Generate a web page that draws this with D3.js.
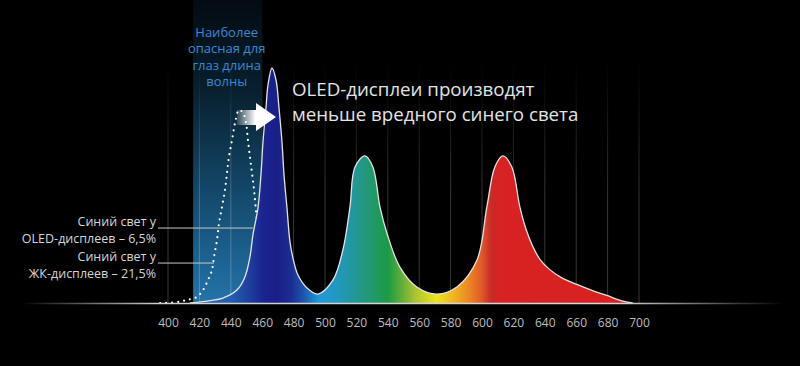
<!DOCTYPE html>
<html>
<head>
<meta charset="utf-8">
<script src="https://cdn.jsdelivr.net/npm/d3@7/dist/d3.min.js"></script>
<style>
  html, body { margin: 0; padding: 0; background: #000; }
  svg { display: block; }
</style>
</head>
<body>
<svg id="chart" width="800" height="366"></svg>
<script>
// ---------- DATA ----------
const tickNm = [400, 420, 440, 460, 480, 500, 520, 540, 560, 580, 600, 620, 640, 660, 680, 700];

// OLED spectrum (relative intensity, blue peak = 100)
const oledNm  = [414, 418.5, 427, 435, 443.9, 449, 452.2, 454.1, 457.3, 459.2, 460.5, 462.4, 463.7, 466.2, 468.8, 470.7, 472.6, 473.9, 475.8, 477.7, 480.2, 482.8, 488.5, 495.5, 505.1, 511.4, 515.9, 519.1, 525.4, 530.5, 535, 539.4, 547.7, 558.5, 571.3, 584, 596.8, 603.1, 608.2, 613.3, 619, 624.1, 628, 632.4, 637, 643.2, 650.3, 660.4, 670, 679.5, 689.7, 696];
const oledVal = [0,   0.3,   1.0, 2.1, 5.5,   11.1, 19.6, 29,    40.4,  54.5,  68.5,  83,    92.8,  100,   94.9,  83,    68.5,  54.5,  40.4,  26,    17.4,  11.9,  6.4,   3.8,   9.8,   22.6,  40.9,  57.9,  62.6,  57.9,  40.9, 29.8,  15.3,  6.8,   3.8,   6.8, 18.3,  40.9,  57.9,  62.6,  57.9, 40.9,  31.5, 24.0,  18.5, 14.2,  10.9,  7.9,   5.4,  3.2,   0.8,   0];

// LCD blue emission (dotted)
const lcdNm  = [395, 405.7, 412.1, 418.5, 422.3, 425.5, 428, 429.3, 431.2, 432.5, 434.4, 436.3, 437.6, 438.8, 440.8, 442.7, 445.2, 447.8, 449.7, 450.9, 452.2, 453.5, 454.8, 456.7, 459.9, 465, 474.5];
const lcdVal = [0,   0.4,   1.3,   2.6,   5.5,   9.8,   14,  19.6,  26.8,  34,    40.9,  48.1,  55.3,  62.1,  69.4,  76.6,  82.1,  80.9,  76.6,  69.4,  62.1,  55.3,  48.1,  35,    18,    5,   0];

// Hazard band (nm)
const bandNm = [416, 460];

// Texts
const bandText  = ["Наиболее", "опасная для", "глаз длина", "волны"];
const titleText = ["OLED-дисплеи производят", "меньше вредного синего света"];
const oledLabel = ["Синий свет у", "OLED-дисплеев – 6,5%"];
const lcdLabel  = ["Синий свет у", "ЖК-дисплеев – 21,5%"];
// leader end points on the curves (nm, value)
const oledLeader = [454.1, 31.9];
const lcdLeader  = [429.3, 17.0];

// spectrum gradient stops (nm, colour)
const specStops = [
  [414, "#2563b2"], [440, "#2260b0"], [452, "#1f3e9c"], [461, "#1a2390"], [470, "#1a1f86"],
  [479, "#1c2f92"], [487, "#1d5ab0"], [496, "#1f9ad8"], [505, "#2198c6"], [515, "#2297a6"],
  [525, "#24977f"], [534, "#1f9a5c"], [540, "#1b9a46"], [548, "#5aab3a"], [558, "#b0c430"],
  [571, "#ece41e"], [581, "#f0b820"], [591, "#ec8a24"], [600, "#e0582a"], [605, "#c93029"],
  [607, "#cc2828"], [611, "#d82222"], [700, "#d82020"]
];

// ---------- SCALES ----------
const svg = d3.select("#chart");
const W = 800, H = 366;
const x = d3.scaleLinear().domain([400, 700]).range([168, 639]);
const y = d3.scaleLinear().domain([0, 100]).range([303, 68]);

svg.append("rect").attr("width", W).attr("height", H).attr("fill", "#000");

const defs = svg.append("defs");

// band gradient
const bg = defs.append("linearGradient").attr("id", "bandGrad")
  .attr("gradientUnits", "userSpaceOnUse").attr("x1", 0).attr("x2", 0).attr("y1", 0).attr("y2", y(0));
[[0, "#040b12"], [0.3, "#08202f"], [0.6, "#124464"], [1, "#2373aa"]].forEach(s =>
  bg.append("stop").attr("offset", s[0]).attr("stop-color", s[1]));

// spectrum gradient
const sg = defs.append("linearGradient").attr("id", "specGrad")
  .attr("gradientUnits", "userSpaceOnUse").attr("x1", x(400)).attr("x2", x(700)).attr("y1", 0).attr("y2", 0);
specStops.forEach(s => sg.append("stop").attr("offset", (x(s[0]) - x(400)) / (x(700) - x(400))).attr("stop-color", s[1]));

// gridline gradient
const gg = defs.append("linearGradient").attr("id", "gridGrad")
  .attr("gradientUnits", "userSpaceOnUse").attr("x1", 0).attr("x2", 0).attr("y1", 60).attr("y2", 200);
gg.append("stop").attr("offset", 0).attr("stop-color", "#fff").attr("stop-opacity", 0);
gg.append("stop").attr("offset", 1).attr("stop-color", "#fff").attr("stop-opacity", 0.22);

// baseline gradient
const blg = defs.append("linearGradient").attr("id", "baseGrad")
  .attr("gradientUnits", "userSpaceOnUse").attr("x1", 20).attr("x2", 785).attr("y1", 0).attr("y2", 0);
[[0, "#000"], [0.18, "#d0d0d0"], [0.78, "#d8d8d8"], [1, "#000"]].forEach(s =>
  blg.append("stop").attr("offset", s[0]).attr("stop-color", s[1]));

// arrow gradient
const ag = defs.append("linearGradient").attr("id", "arrowGrad")
  .attr("gradientUnits", "userSpaceOnUse").attr("x1", 236).attr("x2", 262).attr("y1", 0).attr("y2", 0);
ag.append("stop").attr("offset", 0).attr("stop-color", "#fff").attr("stop-opacity", 0.1);
ag.append("stop").attr("offset", 0.75).attr("stop-color", "#fff").attr("stop-opacity", 1);

// ---------- BAND ----------
svg.append("rect")
  .attr("x", x(bandNm[0])).attr("y", 0)
  .attr("width", x(bandNm[1]) - x(bandNm[0])).attr("height", y(0))
  .attr("fill", "url(#bandGrad)");

// ---------- GRIDLINES ----------
svg.append("g").selectAll("line").data(tickNm).join("line")
  .attr("x1", d => x(d)).attr("x2", d => x(d))
  .attr("y1", 60).attr("y2", y(0))
  .attr("stroke", "url(#gridGrad)").attr("stroke-width", 1);

// ---------- LCD DOTTED CURVE ----------
const lcd = lcdNm.map((n, i) => ({ nm: n, v: lcdVal[i] }));
const oled = oledNm.map((n, i) => ({ nm: n, v: oledVal[i] }));

const curve = d3.curveCatmullRom.alpha(0.5);
const line = d3.line().x(d => x(d.nm)).y(d => Math.min(y(0), y(d.v))).curve(curve);
svg.append("path").datum(lcd)
  .attr("d", line)
  .attr("fill", "none").attr("stroke", "#fff").attr("stroke-width", 2.2)
  .attr("stroke-linecap", "round").attr("stroke-dasharray", "0 6");

// ---------- OLED AREA ----------
const area = d3.area().x(d => x(d.nm)).y0(y(0)).y1(d => y(d.v)).curve(curve);
svg.append("path").datum(oled).attr("d", area).attr("fill", "url(#specGrad)");
svg.append("path").datum(oled).attr("d", line)
  .attr("fill", "none").attr("stroke", "#e4e4e4").attr("stroke-width", 1.3);

// ---------- BASELINE ----------
svg.append("line").attr("x1", 20).attr("x2", 785).attr("y1", y(0) + 0.5).attr("y2", y(0) + 0.5)
  .attr("stroke", "url(#baseGrad)").attr("stroke-width", 1.6);

// ---------- AXIS ----------
const axis = d3.axisBottom(x).tickValues(tickNm).tickSize(0).tickPadding(0).tickFormat(d3.format("d"));
const ag2 = svg.append("g").attr("transform", `translate(0, ${y(0) + 15})`).call(axis);
ag2.select(".domain").remove();
ag2.selectAll("text").attr("fill", "#bdbdbd").attr("font-family", "'Open Sans', sans-serif")
  .attr("font-size", 12).attr("dy", "0.71em");

// ---------- BAND TEXT ----------
const bandCx = (x(bandNm[0]) + x(bandNm[1])) / 2 - 1;
svg.append("g").selectAll("text").data(bandText).join("text")
  .attr("x", bandCx).attr("y", (d, i) => 37 + i * 16.3)
  .attr("text-anchor", "middle").attr("fill", "#3a89d4")
  .attr("font-family", "'Open Sans', sans-serif").attr("font-size", 13)
  .text(d => d);

// ---------- ARROW ----------
const ax0 = 237, ay = 117;
const arrowPath = `M${ax0},${ay - 7} L${ax0 + 19},${ay - 7} L${ax0 + 19},${ay - 14} L${ax0 + 39},${ay} L${ax0 + 19},${ay + 14} L${ax0 + 19},${ay + 8} L${ax0},${ay + 8} Z`;
svg.append("path").attr("d", arrowPath).attr("fill", "url(#arrowGrad)");

// ---------- TITLE ----------
svg.append("g").selectAll("text").data(titleText).join("text")
  .attr("x", 292).attr("y", (d, i) => 96 + i * 25)
  .attr("fill", "#e4e4e4").attr("font-family", "'Open Sans', sans-serif").attr("font-size", 18.7)
  .text(d => d);

// ---------- LEFT LABELS & LEADERS ----------
const labelX = 156;
function label(lines, baseY) {
  svg.append("g").selectAll("text").data(lines).join("text")
    .attr("x", labelX).attr("y", (d, i) => baseY + i * 16.5)
    .attr("text-anchor", "end").attr("fill", "#d6d6d6")
    .attr("font-family", "'Open Sans', sans-serif").attr("font-size", 12.5)
    .text(d => d);
}
label(oledLabel, 226);
label(lcdLabel, 261);

[oledLeader, lcdLeader].forEach(p => {
  svg.append("line")
    .attr("x1", labelX + 2).attr("x2", x(p[0]))
    .attr("y1", y(p[1])).attr("y2", y(p[1]))
    .attr("stroke", "#c8c8c8").attr("stroke-width", 1);
});
</script>
</body>
</html>
